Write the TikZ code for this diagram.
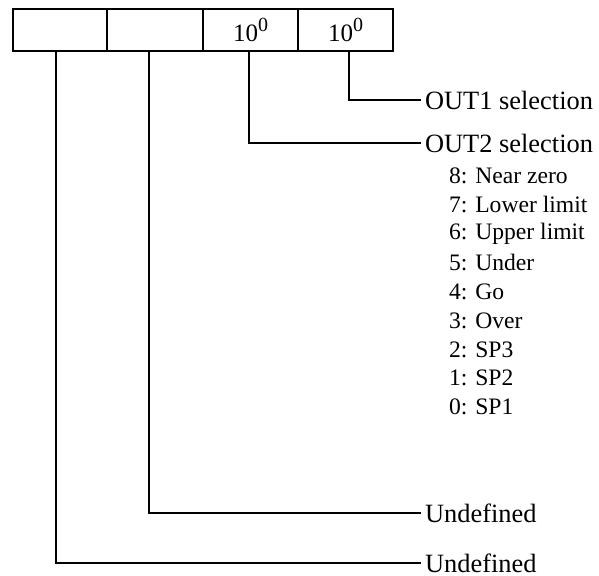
\documentclass[tikz,border=0pt]{standalone}
\usepackage{fontspec}
\setmainfont{Liberation Serif}
\newcommand{\pwr}[1]{10\raisebox{0.42em}{\fontsize{10}{12}\selectfont #1}}
\tikzset{
  cell/.style={draw, anchor=north west, minimum height=21pt, inner sep=0pt, font=\fontsize{12.5}{14}\selectfont},
  lbl/.style={anchor=west, inner sep=1.5pt, font=\fontsize{13.2}{15}\selectfont},
  item/.style={anchor=west, inner sep=0pt, font=\fontsize{11.8}{14}\selectfont}
}
\begin{document}
\begin{tikzpicture}[x=0.5pt, y=-0.5pt, line width=1.1pt]
  \useasboundingbox (0,0) rectangle (599,575);
  % register cells
  \foreach \i/\x/\w/\t in {1/12/94/{}, 2/106/96/{}, 3/202/95/{\pwr{0}}, 4/297/95/{\pwr{0}}}{
    \node[cell, minimum width=\w*0.5pt] (c\i) at (\x,8) {\t};
  }
  % labels
  \node[lbl] (out1) at (421,100) {OUT1 selection};
  \node[lbl] (out2) at (421,143) {OUT2 selection};
  \node[lbl] (und2) at (421,513) {Undefined};
  \node[lbl] (und1) at (421,563) {Undefined};
  \foreach \t [count=\n from 0] in {8: Near zero, 7: Lower limit, 6: Upper limit, 5: Under, 4: Go, 3: Over, 2: SP3, 1: SP2, 0: SP1}{
    \node[item] (opt\n) at (448, 176+28.9*\n) {\t};
  }
  % connectors
  \foreach \i/\s/\l in {1/-4/und1, 2/-6/und2, 3/-1.5/out2, 4/3.5/out1}{
    \draw ([xshift=\s*0.5pt]c\i.south) |- (\l.west);
  }
\end{tikzpicture}
\end{document}
